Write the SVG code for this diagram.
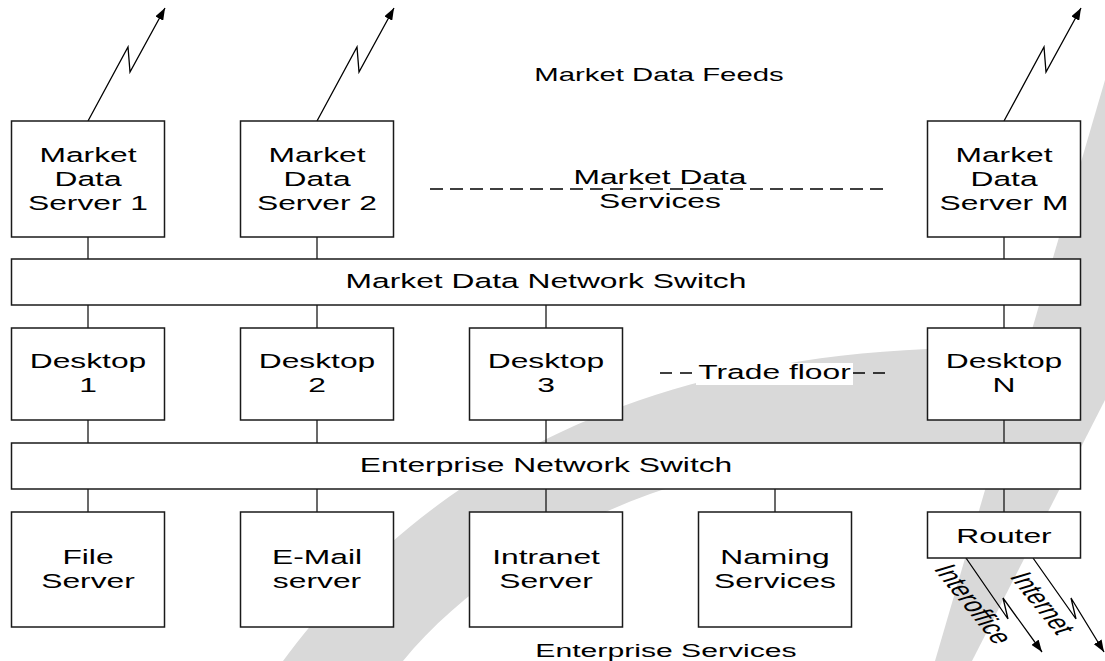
<svg xmlns="http://www.w3.org/2000/svg" width="1105" height="661" viewBox="0 0 1105 661">
  <defs>
    <style>
      .box { fill: #ffffff; stroke: #1a1a1a; stroke-width: 1.5; }
      .wire { fill: none; stroke: #1a1a1a; stroke-width: 1.3; }
      .bolt { fill: none; stroke: #000000; stroke-width: 1.3; marker-end: url(#arrow); }
      .dash { fill: none; stroke: #000000; stroke-width: 1.6; stroke-dasharray: 13 7; }
      .dash2 { fill: none; stroke: #000000; stroke-width: 1.6; stroke-dasharray: 12 8; }
      .wm { fill: #d9d9d9; stroke: none; }
      .t { font-family: "Liberation Sans", Arial, sans-serif; font-size: 19.5px; fill: #000000; text-anchor: middle; }
    </style>
    <marker id="arrow" viewBox="0 0 12 9" refX="12" refY="4.5" markerWidth="12" markerHeight="9" markerUnits="userSpaceOnUse" orient="auto">
      <path d="M0,0 L12,4.5 L0,9 Z" fill="#000000"/>
    </marker>
  </defs>

  <rect width="1105" height="661" fill="#ffffff"/>

  <!-- watermark swoosh and stripe -->
  <g id="watermark">
    <path class="wm" d="M283,661 C380,530 560,365 927,349 L1070,346 L1070,440 C900,445 740,462 650,494 C560,526 460,590 403,661 Z"/>
    <path class="wm" d="M1105,80 L1105,400 L972,661 L935,661 Z"/>
  </g>

  <!-- connectors -->
  <g id="connectors">
    <path class="wire" d="M88,237 V259 M317,237 V259 M1004,237 V259"/>
    <path class="wire" d="M88,305 V328 M317,305 V328 M546,305 V328 M1004,305 V328"/>
    <path class="wire" d="M88,420 V443 M317,420 V443 M546,420 V443 M1004,420 V443"/>
    <path class="wire" d="M88,489 V512 M317,489 V512 M546,489 V512 M775,489 V512 M1004,489 V512"/>
    <polyline class="bolt" points="88,121 128,47 130,72 165,8"/>
    <polyline class="bolt" points="317,121 357,47 359,72 394,8"/>
    <polyline class="bolt" points="1004,121 1044,47 1046,72 1081,8"/>
    <polyline class="bolt" points="966,558 1008,619 1003,598 1042,652"/>
    <polyline class="bolt" points="1033,558 1076,619 1071,598 1104,652"/>
  </g>

  <!-- labels along links -->
  <g id="link-labels">
    <text class="t" dy="0.35em" transform="translate(974,604) scale(1.63,1) rotate(63.6)">Interoffice</text>
    <text class="t" dy="0.35em" transform="translate(1043,603) scale(1.63,1) rotate(63.6)">Internet</text>
  </g>

  <!-- market data servers -->
  <g id="mds1">
    <rect class="box" x="11.5" y="121" width="153" height="116"/>
    <text class="t" transform="translate(88,0) scale(1.63,1)"><tspan x="0" y="162">Market</tspan><tspan x="0" y="186">Data</tspan><tspan x="0" y="210">Server 1</tspan></text>
  </g>
  <g id="mds2">
    <rect class="box" x="240.5" y="121" width="153" height="116"/>
    <text class="t" transform="translate(317,0) scale(1.63,1)"><tspan x="0" y="162">Market</tspan><tspan x="0" y="186">Data</tspan><tspan x="0" y="210">Server 2</tspan></text>
  </g>
  <g id="mdsM">
    <rect class="box" x="927.5" y="121" width="153" height="116"/>
    <text class="t" transform="translate(1004,0) scale(1.63,1)"><tspan x="0" y="162">Market</tspan><tspan x="0" y="186">Data</tspan><tspan x="0" y="210">Server M</tspan></text>
  </g>

  <g id="feeds-label">
    <text class="t" style="font-size:18px" transform="translate(659,81) scale(1.63,1)">Market Data Feeds</text>
  </g>

  <g id="md-services">
    <line class="dash" x1="430" y1="189" x2="888" y2="189"/>
    <text class="t" transform="translate(660,0) scale(1.63,1)"><tspan x="0" y="184">Market Data</tspan><tspan x="0" y="208">Services</tspan></text>
  </g>

  <!-- market data network switch -->
  <g id="md-switch">
    <rect class="box" x="11.5" y="259" width="1069" height="46"/>
    <text class="t" transform="translate(546,288) scale(1.63,1)">Market Data Network Switch</text>
  </g>

  <!-- desktops -->
  <g id="desktop1">
    <rect class="box" x="11.5" y="328" width="153" height="92"/>
    <text class="t" transform="translate(88,0) scale(1.63,1)"><tspan x="0" y="368">Desktop</tspan><tspan x="0" y="392">1</tspan></text>
  </g>
  <g id="desktop2">
    <rect class="box" x="240.5" y="328" width="153" height="92"/>
    <text class="t" transform="translate(317,0) scale(1.63,1)"><tspan x="0" y="368">Desktop</tspan><tspan x="0" y="392">2</tspan></text>
  </g>
  <g id="desktop3">
    <rect class="box" x="469.5" y="328" width="153" height="92"/>
    <text class="t" transform="translate(546,0) scale(1.63,1)"><tspan x="0" y="368">Desktop</tspan><tspan x="0" y="392">3</tspan></text>
  </g>
  <g id="desktopN">
    <rect class="box" x="927.5" y="328" width="153" height="92"/>
    <text class="t" transform="translate(1004,0) scale(1.63,1)"><tspan x="0" y="368">Desktop</tspan><tspan x="0" y="392">N</tspan></text>
  </g>

  <g id="trade-floor">
    <line class="dash2" x1="660" y1="373" x2="692" y2="373"/>
    <line class="dash2" x1="853" y1="373" x2="885" y2="373"/>
    <rect x="696" y="363" width="157" height="22" fill="#ffffff"/>
    <text class="t" transform="translate(774.5,379) scale(1.63,1)">Trade floor</text>
  </g>

  <!-- enterprise network switch -->
  <g id="ent-switch">
    <rect class="box" x="11.5" y="443" width="1069" height="46"/>
    <text class="t" transform="translate(546,472) scale(1.63,1)">Enterprise Network Switch</text>
  </g>

  <!-- enterprise services -->
  <g id="file-server">
    <rect class="box" x="11.5" y="512" width="153" height="115"/>
    <text class="t" transform="translate(88,0) scale(1.63,1)"><tspan x="0" y="564">File</tspan><tspan x="0" y="588">Server</tspan></text>
  </g>
  <g id="email-server">
    <rect class="box" x="240.5" y="512" width="153" height="115"/>
    <text class="t" transform="translate(317,0) scale(1.63,1)"><tspan x="0" y="564">E-Mail</tspan><tspan x="0" y="588">server</tspan></text>
  </g>
  <g id="intranet-server">
    <rect class="box" x="469.5" y="512" width="153" height="115"/>
    <text class="t" transform="translate(546,0) scale(1.63,1)"><tspan x="0" y="564">Intranet</tspan><tspan x="0" y="588">Server</tspan></text>
  </g>
  <g id="naming-services">
    <rect class="box" x="698.5" y="512" width="153" height="115"/>
    <text class="t" transform="translate(775,0) scale(1.63,1)"><tspan x="0" y="564">Naming</tspan><tspan x="0" y="588">Services</tspan></text>
  </g>
  <g id="router">
    <rect class="box" x="927.5" y="512" width="153" height="46"/>
    <text class="t" transform="translate(1004,543) scale(1.63,1)">Router</text>
  </g>

  <g id="enterprise-label">
    <text class="t" style="font-size:18.5px" transform="translate(666,657) scale(1.63,1)">Enterprise Services</text>
  </g>
</svg>
